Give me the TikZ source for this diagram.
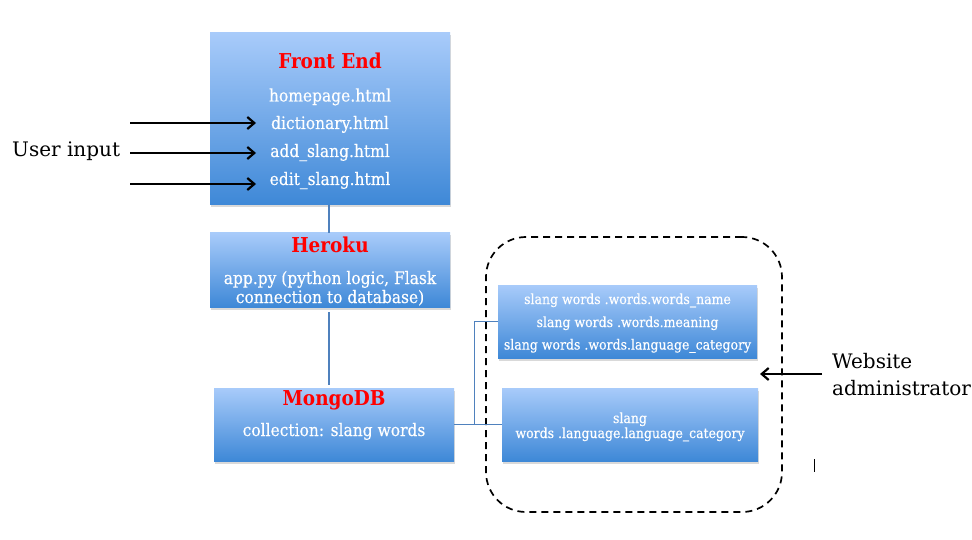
\documentclass[tikz,border=0pt]{standalone}
\usepackage{fontspec}
\setmainfont{DejaVu Serif}
\newfontfamily\condfont{DejaVu Serif Condensed}
\newfontfamily\condheavy[FakeBold=0.35]{DejaVu Serif Condensed}
\usetikzlibrary{arrows.meta,shadows}
\definecolor{boxtop}{RGB}{168,203,250}
\definecolor{boxbot}{RGB}{62,136,215}
\definecolor{conn}{RGB}{79,129,189}
\definecolor{titlered}{RGB}{255,0,0}
\tikzset{
  bluebox/.style={draw=none, top color=boxtop, bottom color=boxbot, inner sep=0pt,
    drop shadow={opacity=0.3, shadow xshift=0.5pt, shadow yshift=-2.5pt}},
  titletxt/.style={anchor=base, inner sep=0pt, text=titlered, font=\condfont\fontsize{20.5}{24}\selectfont\bfseries},
  bodytxt/.style={anchor=base, inner sep=0pt, text=white, font=\condheavy\fontsize{17.2}{20}\selectfont},
  smalltxt/.style={anchor=base, inner sep=0pt, text=white, font=\condheavy\fontsize{13.9}{16}\selectfont},
  sidetxt/.style={anchor=base west, inner sep=0pt, text=black, font=\fontsize{20}{24}\selectfont},
  inarrow/.style={line width=2.2pt, black, -{Straight Barb[length=7pt,width=12pt,line width=2.2pt]}},
  vconn/.style={line width=2pt, conn},
  thinconn/.style={line width=0.9pt, conn},
  groupbox/.style={draw=black, line width=1.7pt, dash pattern=on 7pt off 5pt, rounded corners=40pt, inner sep=0pt}
}
\begin{document}
\begin{tikzpicture}[x=1pt,y=-1pt]
\useasboundingbox (0,0) rectangle (972,540);
% dashed group
\node[groupbox, minimum width=296pt, minimum height=275pt] (grp) at (634,374.5) {};
% boxes
\node[bluebox, minimum width=240pt, minimum height=172pt] (fe) at (330,119) {};
\node[bluebox, minimum width=240pt, minimum height=74pt] (her) at (330,270) {};
\node[bluebox, minimum width=240pt, minimum height=73pt] (mon) at (334,424.5) {};
\node[bluebox, minimum width=259pt, minimum height=73pt] (b1) at (627.5,321.5) {};
\node[bluebox, minimum width=256pt, minimum height=73pt] (b2) at (630,424.5) {};
% front end texts
\node[titletxt] (fet) at (330,69) {Front End};
\node[bodytxt] (fe1) at (330,101.5) {homepage.html};
\node[bodytxt] (fe2) at (330,129) {dictionary.html};
\node[bodytxt] (fe3) at (330,157) {add\_slang.html};
\node[bodytxt] (fe4) at (330,185) {edit\_slang.html};
% heroku texts
\node[titletxt] (hert) at (330,253) {Heroku};
\node[bodytxt] (her1) at (330,284) {app.py (python logic, Flask};
\node[bodytxt] (her2) at (330,303) {connection to database)};
% mongo texts
\node[titletxt] (mont) at (334,405) {MongoDB};
\node[bodytxt] (mon1) at (334,436) {collection: slang words};
% right boxes texts
\node[smalltxt] (b1a) at (627.5,304) {slang words .words.words\_name};
\node[smalltxt] (b1b) at (627.5,327) {slang words .words.meaning};
\node[smalltxt] (b1c) at (627.5,349.5) {slang words .words.language\_category};
\node[smalltxt] (b2a) at (630,423) {slang};
\node[smalltxt] (b2b) at (630,438) {words .language.language\_category};
% side labels
\node[sidetxt] (user) at (12,157) {User input};
\node[sidetxt] (web1) at (832,368) {Website};
\node[sidetxt] (web2) at (832,395) {administrator};
% user input arrows
\coordinate (u1s) at (130,123); \coordinate (u1e) at (256,123);
\coordinate (u2s) at (130,153); \coordinate (u2e) at (256,153);
\coordinate (u3s) at (130,184); \coordinate (u3e) at (256,184);
\draw[inarrow] (u1s) -- (u1e);
\draw[inarrow] (u2s) -- (u2e);
\draw[inarrow] (u3s) -- (u3e);
% admin arrow
\coordinate (as) at (822,374); \coordinate (ae) at (760,374);
\draw[inarrow] (as) -- (ae);
% connectors
\draw[vconn] (329,205) -- (329,233);
\draw[vconn] (329,312) -- (329,385);
\draw[thinconn] (mon.east) -- ++(20,0) |- (b1.west);
\draw[thinconn] (mon.east) -- (b2.west);
% stray cursor mark
\coordinate (tk1) at (814,459); \coordinate (tk2) at (814,472);
\draw[line width=0.8pt] (tk1) -- (tk2);
\end{tikzpicture}
\end{document}
